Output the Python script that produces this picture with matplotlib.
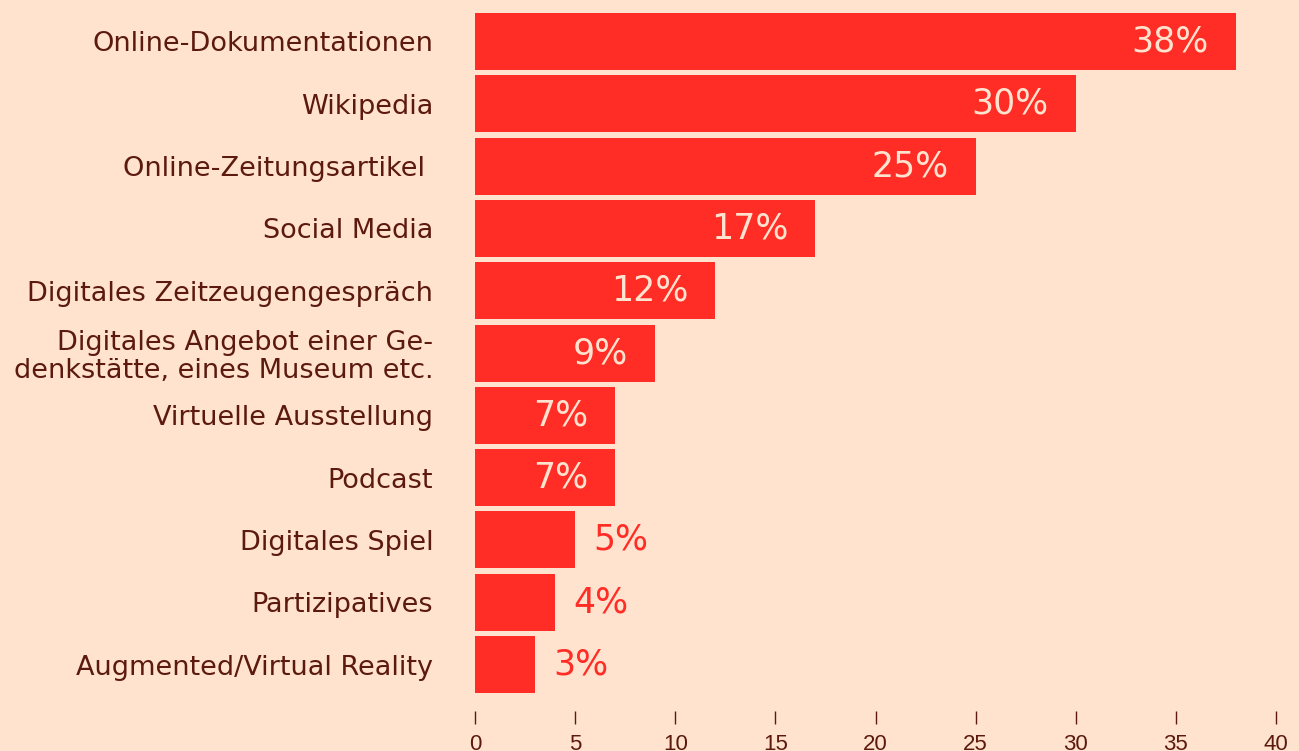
import matplotlib.pyplot as plt

BG = "#FFE3CF"
RED = "#FF2D26"
DARK = "#5C1A0E"

categories = [
    "Online-Dokumentationen",
    "Wikipedia",
    "Online-Zeitungsartikel ",
    "Social Media",
    "Digitales Zeitzeugengespräch",
    "Digitales Angebot einer Ge-\ndenkstätte, eines Museum etc.",
    "Virtuelle Ausstellung",
    "Podcast",
    "Digitales Spiel",
    "Partizipatives",
    "Augmented/Virtual Reality",
]
values = [38, 30, 25, 17, 12, 9, 7, 7, 5, 4, 3]
xticks = [0, 5, 10, 15, 20, 25, 30, 35, 40]

plt.rcParams["font.family"] = ["DejaVu Sans"]

fig = plt.figure(figsize=(12.99, 7.51), dpi=100, facecolor=BG)
ax = fig.add_axes([475 / 1299, 40 / 751, 801 / 1299, 711 / 751])
ax.set_facecolor(BG)

ypos = list(range(len(values)))
ax.barh(ypos, values, height=0.915, color=RED)

for y, v in zip(ypos, values):
    if v >= 7:
        ax.annotate(f"{v}%", (v, y), xytext=(-19.5, 0), textcoords="offset points",
                    ha="right", va="center", fontsize=25, color=BG)
    else:
        ax.annotate(f"{v}%", (v, y), xytext=(13, 0), textcoords="offset points",
                    ha="left", va="center", fontsize=25, color=RED)

ax.set_xlim(0, 40)
ax.set_ylim(10.746, -0.666)
ax.set_yticks(ypos)
ax.set_yticklabels(categories, fontsize=19.5, color=DARK, linespacing=1.1)
ax.tick_params(axis="y", length=0, pad=30)
ax.set_xticks(xticks)
ax.set_xticklabels([str(t) for t in xticks], fontsize=16, color=DARK,
                   family=["Liberation Sans", "DejaVu Sans"])
ax.tick_params(axis="x", length=9.5, width=1, color=DARK, pad=7, direction="out")
for s in ax.spines.values():
    s.set_visible(False)

fig.savefig("out.png", dpi=100, facecolor=BG)
